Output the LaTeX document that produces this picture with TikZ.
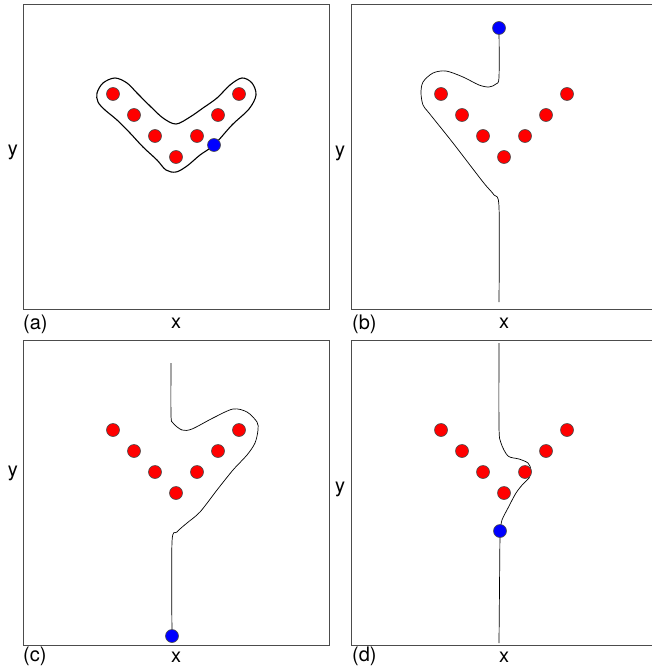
\documentclass[tikz,border=0pt]{standalone}
\usepackage{fontspec}
\setmainfont{TeX Gyre Heros}
\usetikzlibrary{backgrounds}

\begin{document}
\begin{tikzpicture}[
  x=1pt, y=-1pt,
  frame/.style={draw=black!70, line width=0.9pt},
  dot/.style={circle, draw=black!70, line width=0.6pt,
              minimum size=13pt, inner sep=0pt},
  site/.style={dot, fill=red},
  walker/.style={dot, fill=blue},
  trail/.style={draw=black, line width=0.7pt},
  lab/.style={font=\fontsize{20}{20}\selectfont, anchor=base, inner sep=0pt},
]
\useasboundingbox (0,0) rectangle (652,671);

%% panel frames and the V of sites
\foreach \p/\dx/\dy in {a/0/0, b/328/0, c/0/336, d/328/336} {
  \draw[frame] (23+\dx,4+\dy) rectangle (329+\dx,309+\dy);
  \foreach \i/\px/\py in {1/113/94, 2/134/115, 3/155/136, 4/176/157,
                          5/197/136, 6/218/115, 7/239/94}
    \node[site] (\p-\i) at (\px+\dx,\py+\dy) {};
}

%% walkers
\node[walker] (wa) at (214,145) {};
\node[walker] (wb) at (499,28)  {};
\node[walker] (wc) at (172,636) {};
\node[walker] (wd) at (500,531) {};

%% trails go under the dots
\begin{pgfonlayer}{background}
  \draw[trail, line width=1.1pt] plot[smooth cycle, tension=0.55] coordinates {
    (97,93) (103,83) (115,78) (127,83) (137,93) (150,106) (163,118)
    (176,124) (190,117) (203,108) (217,98) (230,85) (242,78) (252,83)
    (256,95) (249,109) (232,125) (wa.center) (200,155) (187,166)
    (176,172) (166,170) (157,160) (143,147) (130,133) (117,120)
    (105,110) (98,102)};
  \draw[trail] plot[smooth, tension=0.5] coordinates {
    (wb.center) (499,77) (496,84) (489,87) (479,85) (463,77) (446,71)
    (433,73) (423,82) (421,93) (423,105) (429,113) (453,143) (483,182)
    (494,195) (499,207) (499,302)};
  \draw[trail] plot[smooth, tension=0.5] coordinates {
    (171,363) (171,415) (173,423) (182,430) (192,429) (213,418)
    (233,409) (247,412) (257,422) (258,430) (255,443) (247,455)
    (233,470) (217,490) (200,512) (187,523) (177,532) (172,542)
    (wc.center)};
  \draw[trail] plot[smooth, tension=0.5] coordinates {
    (499,343) (499,427) (501,443) (508,456) (519,459) (528,463)
    (531,470) (529,478) (523,484) (516,493) (508,508) (502,520)
    (wd.center)};
  \draw[trail] (wd.center) -- (499,643);
\end{pgfonlayer}

%% axis names and panel tags
\node[lab] (ya) at (13,156)  {y};
\node[lab] (yb) at (340,157) {y};
\node[lab] (yc) at (13,476)  {y};
\node[lab] (yd) at (340,492) {y};
\node[lab] (xa) at (176,328) {x};
\node[lab] (xb) at (504,328) {x};
\node[lab] (xc) at (176,662) {x};
\node[lab] (xd) at (504,662) {x};
\node[lab, anchor=base west] (ta) at (23,329)  {(a)};
\node[lab, anchor=base west] (tb) at (352,329) {(b)};
\node[lab, anchor=base west] (tc) at (23,661)  {(c)};
\node[lab, anchor=base west] (td) at (352,661) {(d)};
\end{tikzpicture}
\end{document}
